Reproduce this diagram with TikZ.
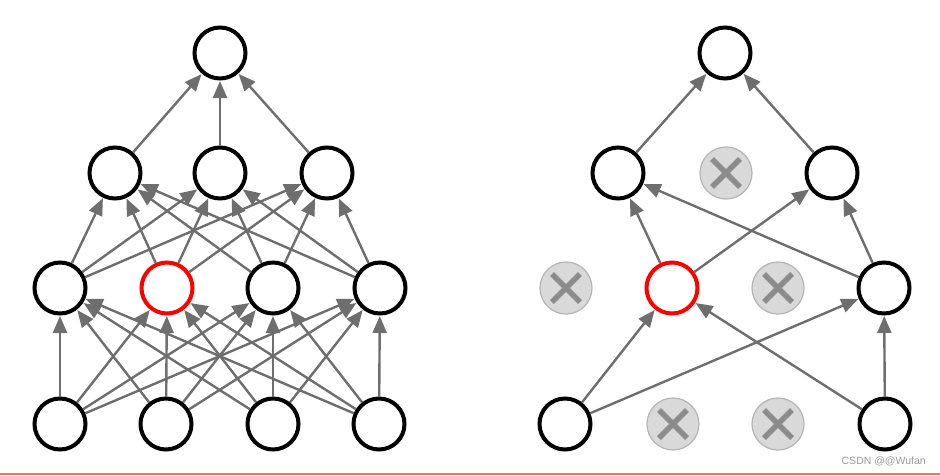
\documentclass[tikz,border=0pt]{standalone}
\usepackage{fontspec}
\setsansfont{Liberation Sans}
\usetikzlibrary{arrows.meta}
\definecolor{edgegray}{HTML}{6E6E6E}
\definecolor{dropfill}{HTML}{D9D9D9}
\definecolor{dropborder}{HTML}{B5B5B5}
\definecolor{xgray}{HTML}{8C8C8C}
\definecolor{bottomred}{HTML}{E8776A}
\definecolor{wmgray}{HTML}{9A9A9A}
\begin{document}
\begin{tikzpicture}[x=1pt,y=-1pt,
  neuron/.style={circle, draw=black, line width=4pt, fill=white, minimum size=51pt, inner sep=0pt},
  redneuron/.style={neuron, draw=red},
  dropped/.style={circle, draw=dropborder, line width=1.2pt, fill=dropfill, minimum size=52pt, inner sep=0pt,
    path picture={
      \draw[xgray, line width=5.5pt] ([shift={(-14pt,-14pt)}]path picture bounding box.center) -- ([shift={(14pt,14pt)}]path picture bounding box.center);
      \draw[xgray, line width=5.5pt] ([shift={(-14pt,14pt)}]path picture bounding box.center) -- ([shift={(14pt,-14pt)}]path picture bounding box.center);
    }},
  conn/.style={draw=edgegray, line width=2.4pt, -{Triangle[length=17pt,width=14pt]}, shorten >=0.5pt}]
\useasboundingbox (0,0) rectangle (940,475);
\fill[white] (0,0) rectangle (940,475);

% ---------- Left network ----------
\node[neuron] (Li1) at (60,424) {};
\node[neuron] (Li2) at (166,424) {};
\node[neuron] (Li3) at (273,424) {};
\node[neuron] (Li4) at (379,424) {};
\node[neuron] (Lh1) at (60,288) {};
\node[redneuron] (Lh2) at (167,288) {};
\node[neuron] (Lh3) at (273,288) {};
\node[neuron] (Lh4) at (380,288) {};
\node[neuron] (Lg1) at (115,173) {};
\node[neuron] (Lg2) at (220,173) {};
\node[neuron] (Lg3) at (327,173) {};
\node[neuron] (Lo) at (220,53) {};

\foreach \i in {1,2,3,4}{
  \foreach \j in {1,2,3,4}{
    \draw[conn] (Li\i) -- (Lh\j);
  }
}
\foreach \i in {1,2,3,4}{
  \foreach \j in {1,2,3}{
    \draw[conn] (Lh\i) -- (Lg\j);
  }
}
\foreach \j in {1,2,3}{
  \draw[conn] (Lg\j) -- (Lo);
}

% ---------- Right network ----------
\node[neuron] (Ri1) at (565,424) {};
\node[dropped] (Ri2) at (673,424) {};
\node[dropped] (Ri3) at (778,424) {};
\node[neuron] (Ri4) at (885,424) {};
\node[dropped] (Rh1) at (566,288) {};
\node[redneuron] (Rh2) at (672,288) {};
\node[dropped] (Rh3) at (778,288) {};
\node[neuron] (Rh4) at (884,288) {};
\node[neuron] (Rg1) at (618,173) {};
\node[dropped] (Rg2) at (726,173) {};
\node[neuron] (Rg3) at (832,173) {};
\node[neuron] (Ro) at (725,53) {};

\draw[conn] (Ri1) -- (Rh2);
\draw[conn] (Ri1) -- (Rh4);
\draw[conn] (Ri4) -- (Rh2);
\draw[conn] (Ri4) -- (Rh4);
\draw[conn] (Rh2) -- (Rg1);
\draw[conn] (Rh2) -- (Rg3);
\draw[conn] (Rh4) -- (Rg1);
\draw[conn] (Rh4) -- (Rg3);
\draw[conn] (Rg1) -- (Ro);
\draw[conn] (Rg3) -- (Ro);

% ---------- watermark and base line ----------
\node[anchor=east, text=wmgray, font=\sffamily\fontsize{10.5}{12}\selectfont, inner sep=0pt] (wm) at (926,461) {CSDN @@Wufan};
\draw[draw=bottomred, line width=1.5pt] (0,474) -- (940,474);
\end{tikzpicture}
\end{document}
